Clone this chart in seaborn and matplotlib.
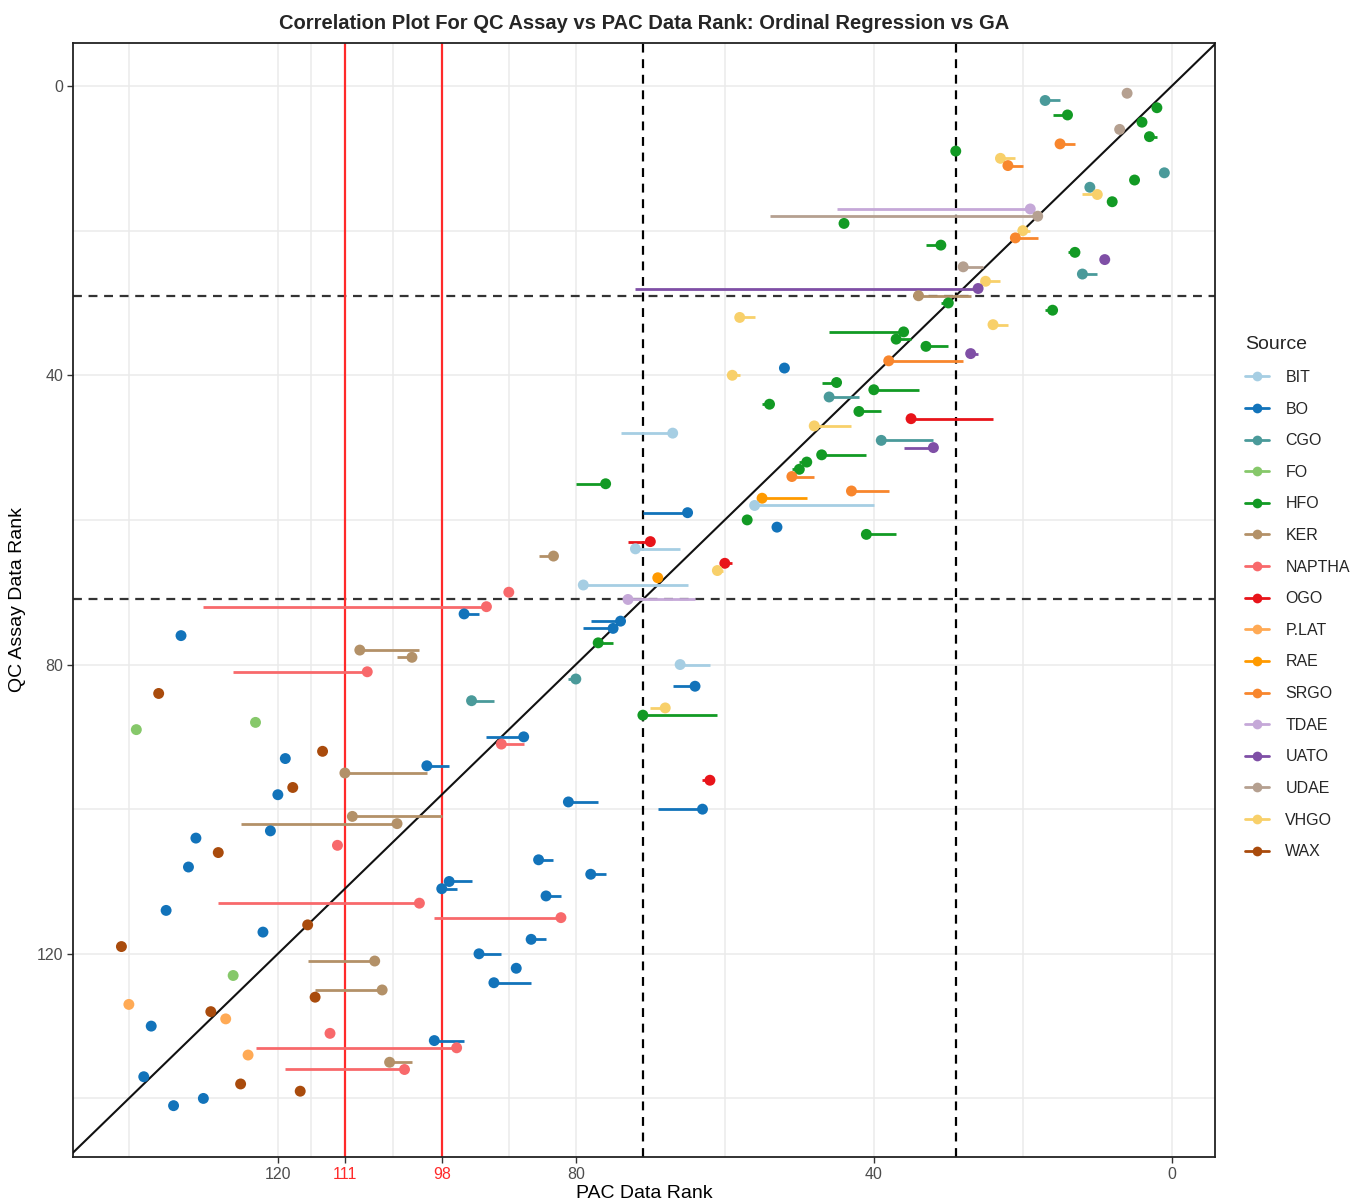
import matplotlib
matplotlib.use("Agg")
import matplotlib.pyplot as plt
from matplotlib.lines import Line2D
import seaborn as sns
import pandas as pd

# QC assay rank of each sample
qc_rank = [1, 2, 3, 4, 5, 6, 7, 8, 9, 10, 11, 12, 13, 14, 15, 16, 17, 18, 19, 20,
           21, 22, 23, 24, 25, 26, 27, 28, 29, 30, 31, 32, 33, 34, 35, 36, 37, 38, 39, 40,
           41, 42, 43, 44, 45, 46, 47, 48, 49, 50, 51, 52, 53, 54, 55, 56, 57, 58, 59, 60,
           61, 62, 63, 64, 65, 66, 67, 68, 69, 70, 71, 72, 73, 74, 75, 76, 77, 78, 79, 80,
           81, 82, 83, 84, 85, 86, 87, 88, 89, 90, 91, 92, 93, 94, 95, 96, 97, 98, 99, 100,
           101, 102, 103, 104, 105, 106, 107, 108, 109, 110, 111, 112, 113, 114, 115, 116, 117, 118, 119, 120,
           121, 122, 123, 124, 125, 126, 127, 128, 129, 130, 131, 132, 133, 134, 135, 136, 137, 138, 139, 140,
           141]

# sample source category
source = ["UDAE", "CGO", "HFO", "HFO", "HFO", "UDAE", "HFO", "SRGO", "HFO", "VHGO",
          "SRGO", "CGO", "HFO", "CGO", "VHGO", "HFO", "TDAE", "UDAE", "HFO", "VHGO",
          "SRGO", "HFO", "HFO", "UATO", "UDAE", "CGO", "VHGO", "UATO", "KER", "HFO",
          "HFO", "VHGO", "VHGO", "HFO", "HFO", "HFO", "UATO", "SRGO", "BO", "VHGO",
          "HFO", "HFO", "CGO", "HFO", "HFO", "OGO", "VHGO", "BIT", "CGO", "UATO",
          "HFO", "HFO", "HFO", "SRGO", "HFO", "SRGO", "RAE", "BIT", "BO", "HFO",
          "BO", "HFO", "OGO", "BIT", "KER", "OGO", "VHGO", "RAE", "BIT", "NAPTHA",
          "TDAE", "NAPTHA", "BO", "BO", "BO", "BO", "HFO", "KER", "KER", "BIT",
          "NAPTHA", "CGO", "BO", "WAX", "CGO", "VHGO", "HFO", "FO", "FO", "BO",
          "NAPTHA", "WAX", "BO", "BO", "KER", "OGO", "WAX", "BO", "BO", "BO",
          "KER", "KER", "BO", "BO", "NAPTHA", "WAX", "BO", "BO", "BO", "BO",
          "BO", "BO", "NAPTHA", "BO", "NAPTHA", "WAX", "BO", "BO", "WAX", "BO",
          "KER", "BO", "FO", "BO", "KER", "WAX", "P.LAT", "WAX", "P.LAT", "BO",
          "NAPTHA", "BO", "NAPTHA", "P.LAT", "KER", "NAPTHA", "BO", "WAX", "WAX", "BO",
          "BO"]

# PAC data rank from the GA model (point)
pac_ga = [6, 17, 2, 14, 4, 7, 3, 15, 29, 23,
          22, 1, 5, 11, 10, 8, 19, 18, 44, 20,
          21, 31, 13, 9, 28, 12, 25, 26, 34, 30,
          16, 58, 24, 36, 37, 33, 27, 38, 52, 59,
          45, 40, 46, 54, 42, 35, 48, 67, 39, 32,
          47, 49, 50, 51, 76, 43, 55, 56, 65, 57,
          53, 41, 70, 72, 83, 60, 61, 69, 79, 89,
          73, 92, 95, 74, 75, 133, 77, 109, 102, 66,
          108, 80, 64, 136, 94, 68, 71, 123, 139, 87,
          90, 114, 119, 100, 111, 62, 118, 120, 81, 63,
          110, 104, 121, 131, 112, 128, 85, 132, 78, 97,
          98, 84, 101, 135, 82, 116, 122, 86, 141, 93,
          107, 88, 126, 91, 106, 115, 140, 129, 127, 137,
          113, 99, 96, 124, 105, 103, 138, 125, 117, 130,
          134]

# PAC data rank from the ordinal regression model (segment end)
pac_or = [6.7, 15, 2, 16, 4, 7, 2, 13, 29, 21,
          20, 1, 5, 11, 12, 8, 45, 54, 44, 19,
          18, 33, 14, 9, 25.3, 10, 23, 72, 27, 31,
          17, 56, 22, 46, 35, 30, 26, 28, 52, 58,
          47, 34, 42, 55, 39, 24, 43, 74, 32, 36,
          41, 50, 51, 48, 80, 38, 49, 40, 71, 57,
          53, 37, 73, 66, 85, 59, 60.3, 69, 65, 89,
          64, 130, 93, 78, 79, 133, 75, 101, 104, 62,
          126, 81, 67, 136, 91, 70, 61, 123, 139, 92,
          87, 114, 119, 97, 100, 63, 118, 120, 77, 69,
          98, 125, 121, 131, 112, 128, 83, 132, 76, 94,
          96, 82, 128, 135, 99, 116, 122, 84, 141, 90,
          116, 88, 126, 86, 115, 115, 140, 129, 127, 137,
          113, 95, 123, 124, 102, 119, 138, 125, 117, 130,
          134]

source_order = ["BIT", "BO", "CGO", "FO", "HFO", "KER", "NAPTHA", "OGO",
                "P.LAT", "RAE", "SRGO", "TDAE", "UATO", "UDAE", "VHGO", "WAX"]
source_colors = ["#A6CEE3", "#1273BA", "#4A9A9A", "#86C86A", "#129A24", "#B39168",
                 "#F8696B", "#E8141A", "#FFAA55", "#FF9A00", "#F8862D", "#C5A8D8",
                 "#7F4FA6", "#B5A090", "#F8D06A", "#A94B0C"]
palette = dict(zip(source_order, source_colors))

df = pd.DataFrame({"qc": qc_rank, "source": source, "ga": pac_ga, "ord": pac_or})

sns.set_theme(style="white")
plt.rcParams["font.family"] = ["Liberation Sans", "DejaVu Sans"]

fig = plt.figure(figsize=(13.55, 12.03), dpi=100)
ax = fig.add_axes([73 / 1355, 1 - 1157 / 1203, (1215 - 73) / 1355, (1157 - 43) / 1203])

# limits: both axes reversed so rank 1 sits top-right
ax.set_xlim(147.5, -5.8)
ax.set_ylim(148.1, -5.95)

# panel grid
grid_kw = dict(color="#EBEBEB", lw=1.1, zorder=0)
for gx in [140, 120, 115.5, 111, 104.5, 98, 89, 80, 60, 40, 20, 0]:
    ax.axvline(gx, **grid_kw)
for gy in [0, 20, 40, 60, 80, 100, 120, 140]:
    ax.axhline(gy, **grid_kw)

# quadrant cut-offs
for v in [71, 29]:
    ax.axvline(v, color="black", ls=(0, (4, 3)), lw=1.6, zorder=2)
    ax.axhline(v, color="#333333", ls=(0, (4, 3)), lw=1.6, zorder=2)
for v in [111, 98]:
    ax.axvline(v, color="#FF2A2A", lw=1.6, zorder=2)

# identity line
ax.plot([-20, 170], [-20, 170], color="#111111", lw=1.5, zorder=3)

# segments from GA rank to ordinal regression rank
ax.hlines(df["qc"], df["ga"], df["ord"], colors=[palette[s] for s in df["source"]],
          lw=2.0, zorder=4)
sns.scatterplot(data=df, x="ga", y="qc", hue="source", hue_order=source_order,
                palette=palette, s=62, edgecolor="none", linewidth=0, legend=False,
                ax=ax, zorder=5)

for sp in ax.spines.values():
    sp.set_color("#222222")
    sp.set_linewidth(1.3)

ax.set_xticks([120, 111, 98, 80, 40, 0])
ax.set_xticklabels(["120", "111", "98", "80", "40", "0"])
ax.set_yticks([0, 40, 80, 120])
ax.tick_params(axis="both", which="major", length=4, width=1, color="#333333",
               labelsize=11.5, labelcolor="#4D4D4D", direction="out", pad=3)
ax.tick_params(axis="x", bottom=True)
ax.tick_params(axis="y", left=True)
for lab in ax.get_xticklabels():
    if lab.get_text() in ("111", "98"):
        lab.set_color("#FF2A2A")

ax.set_xlabel("PAC Data Rank", fontsize=14, color="black", labelpad=2)
ax.set_ylabel("QC Assay Data Rank", fontsize=14, color="black", labelpad=8)
ax.set_title("Correlation Plot For QC Assay vs PAC Data Rank: Ordinal Regression vs GA",
             fontsize=14.5, fontweight="bold", pad=10)

handles = [Line2D([0], [0], color=palette[s], lw=2.0, marker="o", markersize=7,
                  markeredgewidth=0) for s in source_order]
leg = fig.legend(handles, source_order, title="Source", loc="upper left",
                 bbox_to_anchor=(1231 / 1355, 1 - 322 / 1203), frameon=False,
                 fontsize=11.5, title_fontsize=14, labelspacing=1.04, handlelength=1.5,
                 handletextpad=1.0)
leg._legend_box.align = "left"

fig.savefig("out.png", dpi=100)
